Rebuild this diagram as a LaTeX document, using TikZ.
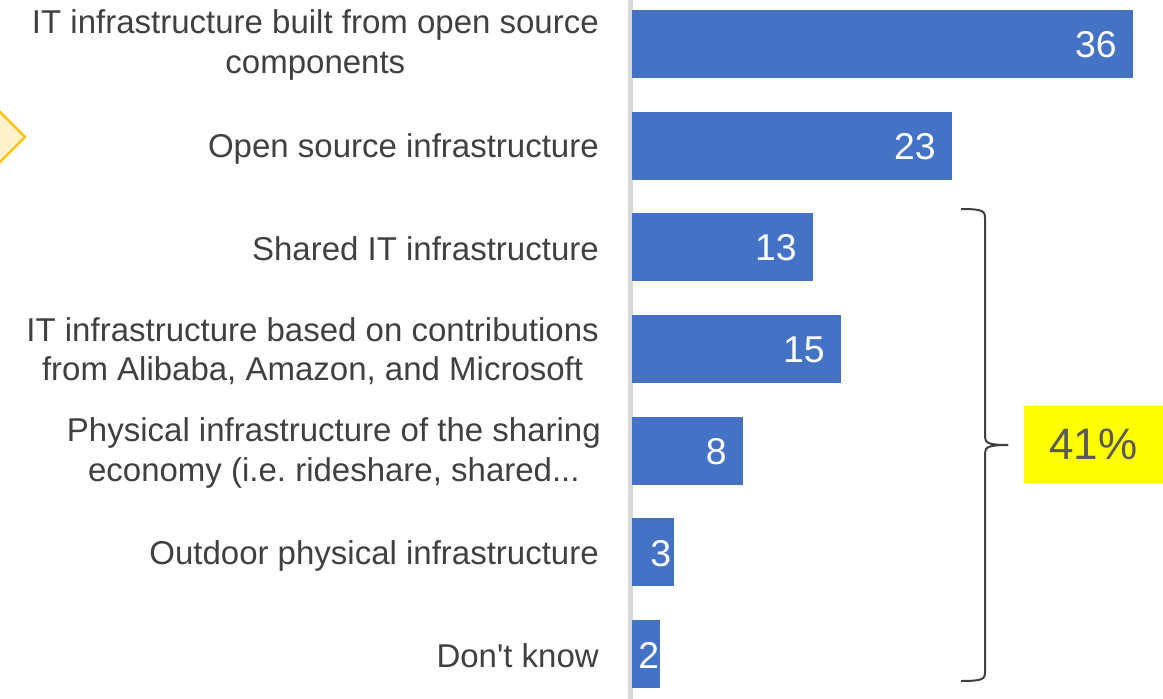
\documentclass[tikz,border=0pt]{standalone}
\usepackage{fontspec}
\setmainfont{Liberation Sans}
\frenchspacing
\definecolor{barblue}{HTML}{4472C4}
\definecolor{axisgray}{HTML}{D9D9D9}
\definecolor{labelgray}{HTML}{404040}
\definecolor{pctgray}{HTML}{595959}
\definecolor{dfill}{HTML}{FFF2CC}
\definecolor{dline}{HTML}{FFC000}
\definecolor{hiyellow}{HTML}{FFFF00}
\tikzset{
  bar/.style={fill=barblue, draw=none},
  catlabel/.style={anchor=east, inner sep=0pt, align=center, text=labelgray,
    font=\fontsize{24.75pt}{29.5pt}\selectfont},
  vallabel/.style={anchor=east, inner sep=0pt, text=white,
    font=\fontsize{28pt}{32pt}\selectfont},
}
\begin{document}
\begin{tikzpicture}[x=0.75pt, y=-0.75pt]
\useasboundingbox (0,0) rectangle (1163,699);
\clip (0,0) rectangle (1163,699);
% diamond at left edge
\draw[fill=dfill, draw=dline, line width=1.6pt] (25,137) -- (-30,82) -- (-85,137) -- (-30,192) -- cycle;
% axis
\draw[axisgray, line width=3.75pt] (630,0) -- (630,699);
% bars
\def\u{13.92}
\foreach \v/\i in {36/0, 23/1, 13/2, 15/3, 8/4, 3/5, 2/6} {
  \path[bar] (632,{10+101.67*\i}) rectangle ({632+\u*\v},{78+101.67*\i});
}
% bar end coordinates & labels
\coordinate (b1) at (1133,45);
\coordinate (b2) at (952,147);
\coordinate (b3) at (813,248);
\coordinate (b4) at (841,350);
\coordinate (b5) at (743,452);
\coordinate (b6) at (674,554);
\coordinate (b7) at (660,655);
\node[vallabel] (v1) at ([xshift=-12pt]b1) {36};
\node[vallabel] (v2) at ([xshift=-12pt]b2) {23};
\node[vallabel] (v3) at ([xshift=-12pt]b3) {13};
\node[vallabel] (v4) at ([xshift=-12pt]b4) {15};
\node[vallabel] (v5) at ([xshift=-12pt]b5) {8};
\node[vallabel] (v6) at ([xshift=-2pt]b6) {3};
\node[vallabel] (v7) at ([xshift=-0.5pt]b7) {2};
% category labels
\node[catlabel] (c1) at (599,45) {IT infrastructure built from open source\\components};
\node[catlabel] (c2) at (599,149) {Open source infrastructure};
\node[catlabel] (c3) at (599,249) {Shared IT infrastructure};
\node[catlabel] (c4) at (599,351) {IT infrastructure based on contributions\\from Alibaba, Amazon, and Microsoft};
\node[catlabel] (c5) at (601,453) {Physical infrastructure of the sharing\\economy (i.e. rideshare, shared...};
\node[catlabel] (c6) at (599,556) {Outdoor physical infrastructure};
\node[catlabel] (c7) at (599,656) {Don\textquotesingle t know};
% bracket
\coordinate (btop) at (961,209);
\coordinate (bbot) at (961,681);
\coordinate (btip) at (1008,445);
\draw[labelgray, line width=1.5pt]
  (btop) .. controls (983,209) and (985,211) .. (985,218) -- (985,437)
  .. controls (985,443) and (989,445) .. (btip);
\draw[labelgray, line width=1.5pt]
  (btip) .. controls (989,445) and (985,447) .. (985,453) -- (985,672)
  .. controls (985,679) and (983,681) .. (bbot);
% highlight box
\node[fill=hiyellow, minimum width=104.25pt, minimum height=57.75pt, inner sep=0pt,
  text=pctgray, font=\fontsize{33pt}{36pt}\selectfont] (pct) at (1093.5,444.5) {41\%};
\end{tikzpicture}
\end{document}
